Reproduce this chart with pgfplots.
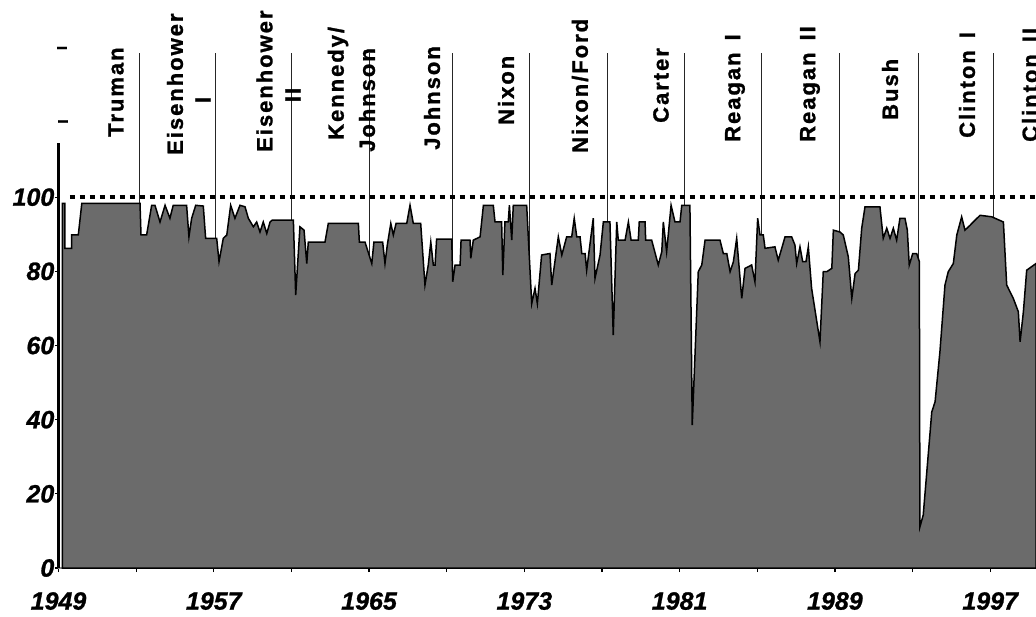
\documentclass[border=0pt]{standalone}
\usepackage{fontspec}
\setmainfont{Liberation Sans}
\newfontfamily\labfont[LetterSpace=9,FakeBold=1.2]{Liberation Sans}
\newfontfamily\tickfont[FakeBold=1]{Liberation Sans}
\usepackage{pgfplots}
\pgfplotsset{compat=1.18}

\pgfplotstableread{
yr v
1949.20 98.3
1949.33 98.3
1949.33 86.2
1949.68 86.2
1949.68 89.8
1950.02 89.8
1950.20 98.3
1953.20 98.3
1953.25 89.8
1953.54 89.8
1953.80 97.8
1953.97 97.8
1954.23 93.3
1954.49 97.8
1954.74 94.3
1954.91 97.8
1955.60 97.8
1955.72 89.3
1955.86 94.3
1956.07 97.8
1956.46 97.6
1956.58 88.9
1957.15 88.9
1957.27 82.6
1957.49 88.9
1957.67 89.8
1957.87 97.8
1958.09 94.3
1958.35 97.8
1958.61 97.4
1958.78 94.3
1959.04 92.0
1959.21 93.3
1959.38 90.6
1959.55 93.3
1959.73 90.2
1959.90 93.3
1960.01 93.8
1961.10 93.8
1961.22 73.6
1961.44 92.0
1961.65 91.1
1961.79 82.1
1961.87 87.9
1962.73 87.9
1962.90 92.9
1964.45 92.9
1964.50 87.9
1964.79 87.9
1965.14 82.1
1965.25 87.9
1965.70 87.9
1965.82 82.1
1965.94 87.1
1966.12 92.9
1966.25 89.8
1966.39 92.9
1966.94 92.9
1967.11 97.8
1967.28 92.9
1967.66 92.9
1967.88 76.3
1968.05 81.7
1968.18 87.9
1968.31 81.7
1968.40 81.7
1968.48 88.7
1969.26 88.7
1969.31 77.2
1969.43 81.7
1969.69 81.7
1969.74 88.4
1970.20 88.4
1970.24 83.5
1970.37 88.4
1970.72 89.3
1970.89 97.8
1971.40 97.8
1971.49 93.3
1971.83 93.3
1971.89 79.0
1972.00 93.3
1972.17 93.3
1972.23 97.8
1972.35 88.4
1972.43 97.8
1973.12 97.8
1973.38 71.3
1973.55 75.4
1973.67 71.3
1973.89 84.4
1974.32 84.8
1974.41 76.3
1974.75 89.3
1974.93 84.4
1975.18 89.3
1975.44 89.3
1975.57 94.3
1975.70 89.3
1975.87 89.3
1975.96 84.8
1976.13 84.8
1976.21 80.3
1976.55 94.3
1976.64 78.1
1976.90 84.4
1977.07 93.3
1977.41 93.3
1977.58 62.8
1977.76 93.3
1977.84 88.4
1978.19 88.4
1978.36 93.3
1978.50 88.4
1978.87 88.4
1978.92 93.3
1979.22 93.3
1979.25 88.4
1979.56 88.4
1979.90 81.7
1980.08 85.3
1980.16 93.3
1980.33 85.3
1980.56 97.8
1980.76 93.3
1981.02 93.3
1981.11 97.8
1981.53 97.8
1981.65 38.5
1981.96 79.9
1982.14 81.7
1982.31 88.4
1983.08 88.4
1983.25 84.8
1983.43 84.8
1983.60 79.9
1983.77 82.6
1983.94 88.9
1984.20 72.7
1984.37 80.8
1984.71 81.7
1984.88 77.2
1985.02 94.3
1985.14 89.8
1985.31 89.8
1985.40 86.2
1985.91 86.6
1986.08 83.0
1986.26 86.2
1986.43 89.3
1986.77 89.3
1986.94 87.1
1987.03 82.1
1987.20 86.6
1987.34 82.6
1987.51 82.6
1987.63 86.6
1987.80 75.4
1988.23 61.0
1988.40 79.9
1988.58 79.9
1988.84 80.8
1988.92 91.1
1989.26 90.6
1989.43 89.8
1989.69 83.9
1989.87 72.7
1990.04 79.4
1990.21 80.3
1990.38 91.6
1990.55 97.4
1991.32 97.4
1991.49 88.9
1991.67 91.6
1991.84 88.9
1992.01 91.6
1992.18 88.4
1992.35 94.3
1992.61 94.3
1992.73 91.1
1992.83 81.7
1993.01 84.8
1993.21 84.8
1993.35 82.6
1993.38 11.1
1993.55 14.3
1993.99 42.1
1994.16 44.8
1994.41 58.3
1994.67 76.3
1994.84 79.9
1995.10 82.1
1995.28 89.8
1995.53 94.7
1995.70 91.1
1995.96 92.4
1996.22 93.8
1996.48 95.1
1997.08 94.7
1997.68 93.3
1997.85 76.3
1998.19 72.7
1998.45 69.1
1998.54 61.0
1998.71 69.1
1998.88 80.3
1999.36 82.1
}\approval

\begin{document}
\begin{tikzpicture}[x=1pt,y=1pt]
\useasboundingbox (0,0) rectangle (1036,616);
\begin{axis}[
  at={(58.5pt,48pt)}, anchor=south west,
  scale only axis, width=977.5pt, height=425pt,
  xmin=1949, xmax=1999.36, ymin=0, ymax=114.6,
  axis lines*=left,
  clip=false,
  xtick={1949,1957,...,1997},
  minor xtick={1953,1961,...,1993},
  ytick={0,20,...,100},
  tick align=outside,
  major tick length=4pt, minor tick length=4pt,
  x axis line style={black!45, line width=1.2pt},
  y axis line style={black, line width=2.5pt},
  tick style={black, line width=1.2pt},
  /pgf/number format/assume math mode=true,
  /pgf/number format/1000 sep={},
  xticklabel style={font=\tickfont\fontsize{25}{25}\selectfont\bfseries\itshape, inner sep=0pt, anchor=north, yshift=-20pt},
  yticklabel style={font=\tickfont\fontsize{25}{25}\selectfont\bfseries\itshape, inner sep=0pt, anchor=east},
]
% term boundaries
\foreach \t in {1953.15,1957.06,1960.98,1965.0,1969.27,1973.24,1977.26,1981.23,1985.19,1989.21,1993.28,1997.15}{
  \edef\temp{\noexpand\draw[black!85, line width=0.8pt] (axis cs:\t,0) -- (axis cs:\t,138.8);}
  \temp
}
\addplot[fill=black!58, draw=black, line width=1.5pt] table[x=yr, y=v] {\approval} \closedcycle;
\addplot[black, line width=4.5pt, dash pattern=on 5pt off 5pt] coordinates {(1949.59,100) (1999.36,100)};
\end{axis}
\begin{scope}[every node/.style={rotate=90, anchor=west, inner sep=0pt, font=\labfont\bfseries\fontsize{22}{22}\selectfont}]
\node at (116,479) {Truman};
\node at (175,461) {Eisenhower};
\node[anchor=center] at (203,516) {I};
\node at (264.5,464) {Eisenhower};
\node[anchor=center] at (293,521) {II};
\node at (338,476) {Kennedy/};
\node at (367,464) {Johnson};
\node at (432,466) {Johnson};
\node at (506,491) {Nixon};
\node at (580,463) {Nixon/Ford};
\node at (661,493) {Carter};
\node at (735,474) {Reagan\hspace{12pt}I};
\node at (810,474) {Reagan\hspace{12pt}II};
\node at (890,496) {Bush};
\node at (967,478) {Clinton\hspace{12pt}I};
\node at (1030,474) {Clinton\hspace{12pt}II};
\node[anchor=center, font=\labfont\bfseries\fontsize{14}{14}\selectfont] at (62,568) {I};
\node[anchor=center, font=\labfont\bfseries\fontsize{14}{14}\selectfont] at (63,494.5) {I};
\end{scope}
\end{tikzpicture}
\end{document}
